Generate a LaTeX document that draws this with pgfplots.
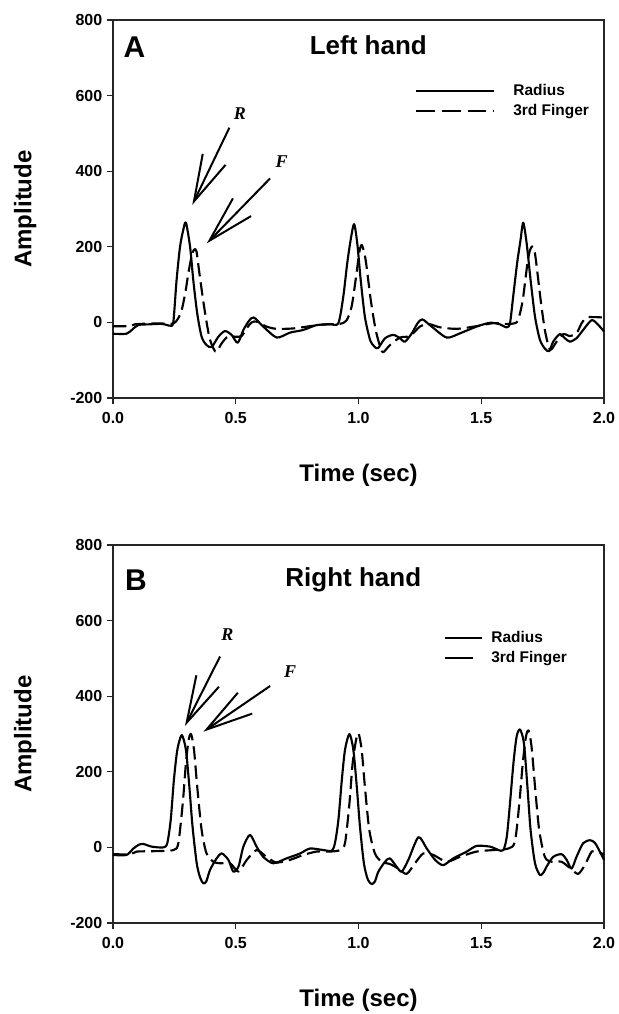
\documentclass[border=0pt]{standalone}
\usepackage{fontspec}
\setmainfont{Liberation Sans}
\newfontfamily\annfont{Liberation Serif}
\usepackage{pgfplots}
\pgfplotsset{compat=1.18}
\usetikzlibrary{arrows.meta}

% shared look of both panels
\pgfplotsset{
  panel/.style={
    scale only axis, width=368.25pt, height=283.5pt,
    xmin=0, xmax=2, ymin=-200, ymax=800,
    xtick={0,0.5,1,1.5,2}, ytick={-200,0,200,400,600,800},
    tick align=outside, tick pos=left, major tick length=4.5pt,
    tick style={line width=0.9pt, black!85},
    axis line style={line width=0.9pt, black!85},
    clip=false,
    /pgf/number format/assume math mode=true,
    tick label style={font=\fontsize{12}{14}\selectfont\bfseries},
    x tick label style={yshift=-3pt, /pgf/number format/fixed, /pgf/number format/fixed zerofill, /pgf/number format/precision=1},
    xlabel={Time (sec)}, ylabel={Amplitude},
    every axis x label/.style={at={(axis description cs:0.5,-0.204)}, anchor=center,
      font=\fontsize{18}{20}\selectfont\bfseries},
    every axis y label/.style={at={(axis description cs:-0.179,0.5)}, rotate=90, anchor=center,
      font=\fontsize{18}{20}\selectfont\bfseries},
    legend cell align=left,
    legend style={draw=none, fill=none, inner sep=0pt, row sep=3.8pt,
      font=\fontsize{11.6}{13}\selectfont\bfseries, nodes={inner sep=0.5pt}},
  },
  radius/.style={line width=1.6pt, black, smooth, tension=0.45, line join=round},
  finger/.style={line width=1.6pt, black, smooth, tension=0.45, line join=round, dash pattern=on 10pt off 4.5pt},
}
\tikzset{ann/.style={line width=1.5pt, -{Straight Barb[length=35pt, width=19pt, line width=1.5pt]}},
  lett/.style={font=\fontsize{13.5}{15}\selectfont\annfont\bfseries\itshape}}

\begin{document}
\begin{tikzpicture}
\path[use as bounding box] (-84.75pt,-462pt) rectangle (378.75pt,298.5pt);

% ---------- A: left hand ----------
\begin{axis}[panel, at={(0,0)}, anchor=south west,
  legend image code/.code={\draw[#1] (0pt,0pt) -- (58.5pt,0pt);},
  legend style={at={(axis cs:1.23,632)}, anchor=north west, column sep=13pt}]
\addplot[radius] coordinates {
(0,-30) (0.055,-30) (0.08,-18) (0.103,-7) (0.15,-5) (0.2,-4) (0.225,-8) (0.235,-9)
(0.246,2) (0.259,112) (0.273,200) (0.286,244) (0.297,264) (0.314,200) (0.327,112)
(0.343,24) (0.361,-38) (0.381,-60) (0.402,-65) (0.429,-38) (0.456,-23) (0.483,-33)
(0.508,-54) (0.531,-20) (0.555,5) (0.574,13) (0.612,-11) (0.667,-40) (0.721,-27)
(0.775,-20) (0.830,-7) (0.884,-5) (0.918,-2) (0.938,68) (0.954,156) (0.968,218)
(0.982,260) (0.995,209) (1.009,112) (1.026,15) (1.047,-46) (1.065,-64) (1.08,-68)
(1.108,-42) (1.142,-33) (1.169,-42) (1.189,-51) (1.217,-29) (1.240,-3) (1.260,8)
(1.298,-11) (1.359,-40) (1.413,-29) (1.481,-11) (1.536,-1) (1.576,-5) (1.603,-13)
(1.617,-2) (1.630,68) (1.646,156) (1.660,218) (1.671,264) (1.685,209) (1.701,112)
(1.719,15) (1.739,-46) (1.760,-70) (1.777,-76) (1.793,-51) (1.820,-31) (1.841,-42)
(1.861,-51) (1.888,-42) (1.915,-20) (1.950,6) (1.977,-7) (2.0,-24)
};
\addlegendentry{Radius}
\addplot[finger, legend image post style={dash pattern=on 14pt off 5.25pt}] coordinates {
(0,-10) (0.07,-10) (0.09,-5) (0.15,-3) (0.2,-3) (0.246,-3) (0.265,10) (0.280,33)
(0.295,80) (0.307,130) (0.321,178) (0.331,193) (0.340,188) (0.352,130) (0.371,42)
(0.392,-38) (0.410,-70) (0.422,-78) (0.443,-55) (0.470,-36) (0.497,-38) (0.524,-36)
(0.545,-15) (0.565,0) (0.585,2) (0.625,-11) (0.666,-17) (0.734,-16) (0.802,-10)
(0.870,-5) (0.924,-4) (0.951,5) (0.972,42) (0.992,130) (1.003,185) (1.013,205)
(1.025,180) (1.033,147) (1.050,59) (1.070,-20) (1.090,-68) (1.101,-79) (1.128,-60)
(1.169,-40) (1.210,-36) (1.250,-11) (1.284,-4) (1.332,-13) (1.400,-17) (1.481,-10)
(1.549,-2) (1.603,-4) (1.644,0) (1.660,30) (1.671,68) (1.688,156) (1.698,190)
(1.708,201) (1.718,185) (1.726,147) (1.742,59) (1.759,-20) (1.775,-65) (1.785,-72)
(1.807,-51) (1.834,-31) (1.861,-36) (1.888,-29) (1.909,-2) (1.929,13) (1.960,14) (2.0,13)
};
\addlegendentry{3rd Finger}
\node[font=\fontsize{22.5}{24}\selectfont\bfseries] at (axis cs:0.087,729) {A};
\node[font=\fontsize{19.5}{22}\selectfont\bfseries] at (axis cs:1.040,734) {Left hand};
\draw[ann] (axis cs:0.474,515) -- (axis cs:0.323,311);
\draw[ann] (axis cs:0.640,381) -- (axis cs:0.382,209);
\node[lett] at (axis cs:0.517,553) {R};
\node[lett] at (axis cs:0.687,425) {F};
\end{axis}

% ---------- B: right hand ----------
\begin{axis}[panel, at={(0,-393.75pt)}, anchor=south west,
  legend image code/.code={\draw[#1] (0pt,0pt) -- (27.75pt,0pt);},
  legend style={at={(axis cs:1.348,574)}, anchor=north west, column sep=5.5pt}]
\addplot[radius] coordinates {
(0,-20) (0.055,-20) (0.083,-3) (0.105,7) (0.124,9) (0.158,2) (0.205,0) (0.221,11)
(0.235,72) (0.248,178) (0.262,258) (0.280,297) (0.297,258) (0.311,161) (0.324,55)
(0.341,-42) (0.355,-80) (0.368,-95) (0.380,-90) (0.395,-60) (0.422,-29) (0.443,-16)
(0.470,-33) (0.490,-64) (0.511,-51) (0.531,2) (0.558,33) (0.585,2) (0.612,-25)
(0.653,-42) (0.707,-29) (0.762,-16) (0.802,-3) (0.857,-7) (0.891,-9) (0.904,11)
(0.918,72) (0.932,178) (0.945,258) (0.963,300) (0.979,258) (0.993,161) (1.006,55)
(1.022,-42) (1.038,-85) (1.054,-97) (1.067,-90) (1.081,-64) (1.108,-38) (1.128,-29)
(1.155,-51) (1.176,-64) (1.203,-33) (1.244,27) (1.278,-3) (1.312,-33) (1.345,-47)
(1.386,-29) (1.441,-11) (1.481,4) (1.536,2) (1.570,-7) (1.590,-7) (1.604,28)
(1.617,116) (1.631,222) (1.644,293) (1.658,312) (1.674,275) (1.688,161) (1.701,46)
(1.719,-42) (1.739,-73) (1.755,-65) (1.766,-51) (1.793,-25) (1.827,-18) (1.848,-33)
(1.868,-56) (1.888,-25) (1.915,11) (1.943,19) (1.963,12) (1.983,-11) (2.0,-33)
};
\addlegendentry{Radius}
\addplot[finger, legend image post style={dash pattern=on 21pt off 10pt}] coordinates {
(0,-18) (0.07,-18) (0.097,-11) (0.165,-10) (0.246,-7) (0.266,11) (0.284,116)
(0.297,222) (0.308,284) (0.318,300) (0.330,258) (0.343,161) (0.361,46) (0.381,-16)
(0.409,-38) (0.436,-42) (0.477,-42) (0.511,-64) (0.545,-33) (0.585,-7) (0.625,-25)
(0.666,-40) (0.721,-33) (0.775,-20) (0.830,-11) (0.884,-11) (0.925,-7) (0.945,11)
(0.963,116) (0.976,222) (0.990,284) (1.000,302) (1.013,258) (1.026,161) (1.044,46)
(1.067,-16) (1.094,-38) (1.128,-44) (1.162,-56) (1.196,-70) (1.230,-42) (1.264,-16)
(1.305,-20) (1.359,-38) (1.413,-25) (1.481,-11) (1.549,-7) (1.610,-3) (1.637,15)
(1.655,116) (1.669,222) (1.682,293) (1.693,309) (1.705,266) (1.719,161) (1.736,46)
(1.759,-25) (1.786,-38) (1.827,-38) (1.868,-58) (1.895,-70) (1.922,-47) (1.950,-11)
(1.977,-11) (2.0,-20)
};
\addlegendentry{3rd Finger}
\node[font=\fontsize{22.5}{24}\selectfont\bfseries] at (axis cs:0.094,707) {B};
\node[font=\fontsize{19.5}{22}\selectfont\bfseries] at (axis cs:0.979,707) {Right hand};
\draw[ann] (axis cs:0.436,505) -- (axis cs:0.293,321);
\draw[ann] (axis cs:0.640,427) -- (axis cs:0.368,306);
\node[lett] at (axis cs:0.466,562) {R};
\node[lett] at (axis cs:0.721,465) {F};
\end{axis}
\end{tikzpicture}
\end{document}
